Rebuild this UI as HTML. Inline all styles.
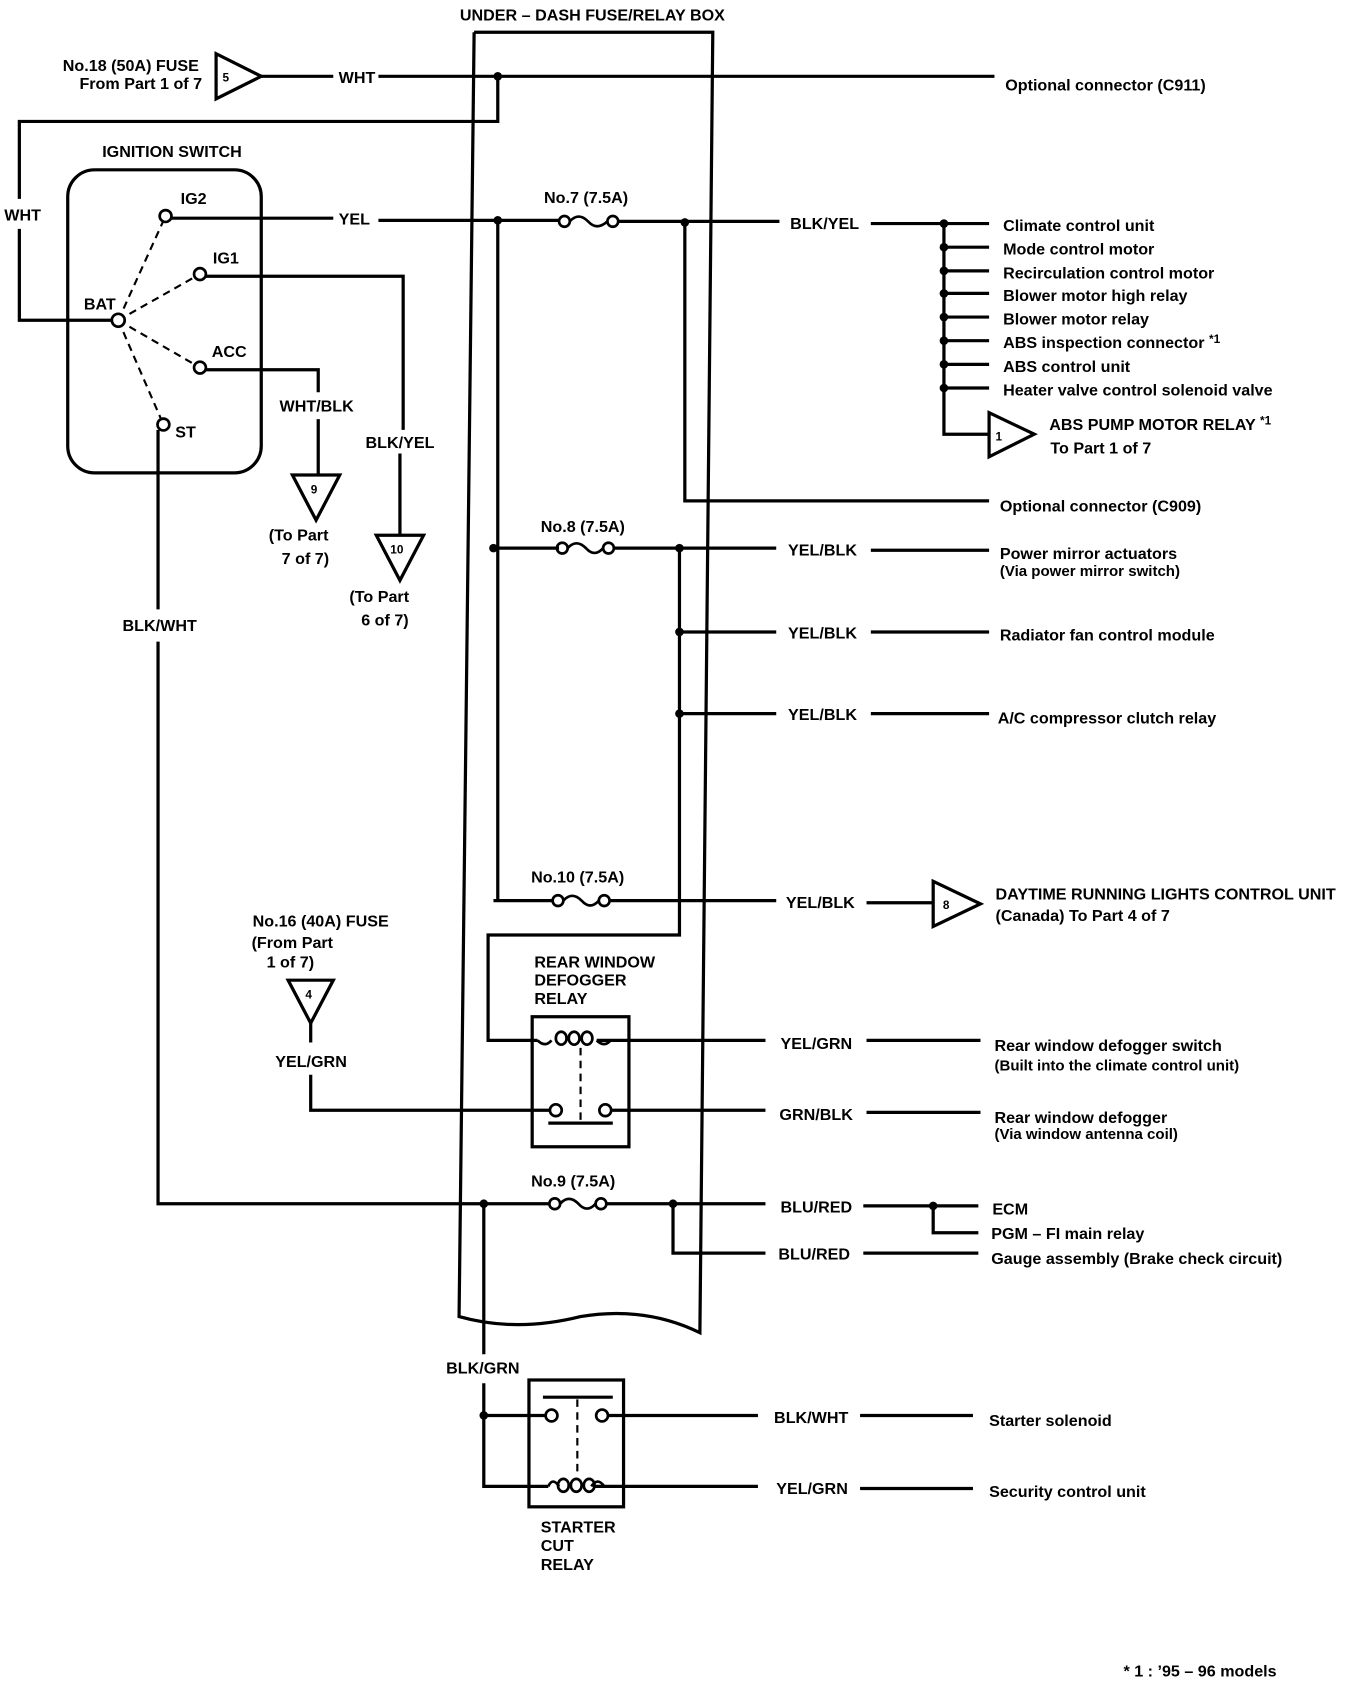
<!DOCTYPE html>
<html><head><meta charset="utf-8"><style>
html,body{margin:0;padding:0;background:#fff}
svg{display:block}
text{font-family:"Liberation Sans",sans-serif;font-size:15px;fill:#000;font-weight:bold}
</style></head><body>
<svg width="1360" height="1682" viewBox="0 0 1265 1565" preserveAspectRatio="none" xmlns="http://www.w3.org/2000/svg">
<g fill="none" stroke="#000" stroke-width="3">
<!-- fuse box -->
<path d="M441 30 L663 30 L651 1240 Q600 1215 540 1225 Q480 1240 427 1225 L441 30"/>
<!-- WHT top -->
<path d="M243 71 H310 M352 71 H925 M463 71 V113 H18 V185 M18 213 V298 H105"/>
<path d="M201 50 L201 92 L243 71 Z"/>
<!-- ignition switch -->
<rect x="63" y="158" width="180" height="282" rx="25"/>
<path d="M159 203 H310 M352 205 H520 M575 206 H725 M810 208 H920"/>
<path d="M191 257 H375 V400 M372 422 V498"/>
<path d="M191 344 H296 V365 M296 390 V442"/>
<path d="M272 442 L316 442 L294 484 Z"/>
<path d="M350 498 L394 498 L372 540 Z"/>
<path d="M147 400 V567 M147 597 V1120 H512"/>
<!-- No7 branches -->
<path d="M463 205 V838 M637 207 V466 H920"/>
<path d="M878 208 V404 H920"/>
<path d="M878 230 H920 M878 252 H920 M878 273 H920 M878 295 H920 M878 317 H920 M878 339 H920 M878 361 H920"/>
<path d="M920 384 L920 425 L962 404 Z"/>
<!-- No8 -->
<path d="M459 510 H520 M570 510 H722 M810 512 H920"/>
<path d="M632 510 V870 H454 V968 H500"/>
<path d="M632 588 H722 M810 588 H920 M632 664 H722 M810 664 H920"/>
<!-- No10 -->
<path d="M459 838 H515 M568 838 H722 M806 840 H868"/>
<path d="M868 820 L868 862 L912 841 Z"/>
<!-- defogger relay -->
<rect x="495" y="946" width="90" height="121"/>
<path d="M555 968 H712 M806 968 H912"/>
<path d="M568 1033 H712 M806 1035 H912"/>
<path d="M289 952 V970 M289 1000 V1033 H512"/>
<path d="M268 912 L310 912 L289 952 Z"/>
<path d="M510 1045 H570"/>
<!-- No9 -->
<path d="M563 1120 H712 M803 1122 H910 M868 1122 V1147 H910 M626 1120 V1166 H712 M803 1166 H910"/>
<path d="M450 1120 V1260 M450 1287 V1383 H510 M450 1317 H508 M565 1317 H705 M800 1317 H905 M552 1383 H705 M800 1385 H905"/>
<rect x="492" y="1284" width="88" height="118"/>
<path d="M505 1300 H570"/>
</g>
<!-- dashed -->
<g fill="none" stroke="#000" stroke-width="2" stroke-dasharray="7,5">
<path d="M110 298 L154 201 M110 298 L186 255 M110 298 L186 342 M110 298 L152 395"/>
<path d="M540 975 V1045 M537 1302 V1372"/>
</g>
<!-- terminals -->
<g fill="#fff" stroke="#000" stroke-width="2.5">
<circle cx="154" cy="201" r="5.5"/><circle cx="186" cy="255" r="5.5"/><circle cx="110" cy="298" r="6"/><circle cx="186" cy="342" r="5.5"/><circle cx="152" cy="395" r="5.5"/>
<circle cx="517" cy="1033" r="5.5"/><circle cx="563" cy="1033" r="5.5"/>
<circle cx="513" cy="1317" r="5.5"/><circle cx="560" cy="1317" r="5.5"/>
</g>
<!-- fuses -->
<g fill="none" stroke="#000" stroke-width="2.5">
<g transform="translate(520,206)"><circle cx="5" cy="0" r="5"/><path d="M10 0 Q18 -9 27 0 Q35 9 45 0"/><circle cx="50" cy="0" r="5"/></g>
<g transform="translate(518,510)"><circle cx="5" cy="0" r="5"/><path d="M10 0 Q18 -9 27 0 Q35 9 43 0"/><circle cx="48" cy="0" r="5"/></g>
<g transform="translate(514,838)"><circle cx="5" cy="0" r="5"/><path d="M10 0 Q18 -9 27 0 Q35 9 43 0"/><circle cx="48" cy="0" r="5"/></g>
<g transform="translate(511,1120)"><circle cx="5" cy="0" r="5"/><path d="M10 0 Q18 -9 27 0 Q35 9 43 0"/><circle cx="48" cy="0" r="5"/></g>
<!-- coils -->
<path d="M500 968 Q507 975 513 968 M555 968 Q562 975 568 968"/>
<ellipse cx="522" cy="966" rx="5" ry="6"/><ellipse cx="534" cy="966" rx="5" ry="6"/><ellipse cx="546" cy="966" rx="5" ry="6"/>
<path d="M510 1383 Q514 1374 520 1383 M550 1383 Q556 1374 562 1383"/>
<ellipse cx="524" cy="1382" rx="5" ry="6"/><ellipse cx="536" cy="1382" rx="5" ry="6"/><ellipse cx="548" cy="1382" rx="5" ry="6"/>
</g>
<!-- dots -->
<g fill="#000">
<circle cx="463" cy="71" r="4"/><circle cx="463" cy="205" r="4"/><circle cx="637" cy="207" r="4"/>
<circle cx="878" cy="208" r="4"/><circle cx="878" cy="230" r="4"/><circle cx="878" cy="252" r="4"/><circle cx="878" cy="273" r="4"/><circle cx="878" cy="295" r="4"/><circle cx="878" cy="317" r="4"/><circle cx="878" cy="339" r="4"/><circle cx="878" cy="361" r="4"/>
<circle cx="459" cy="510" r="4"/><circle cx="632" cy="510" r="4"/><circle cx="632" cy="588" r="4"/><circle cx="632" cy="664" r="4"/>
<circle cx="450" cy="1120" r="4"/><circle cx="626" cy="1120" r="4"/><circle cx="868" cy="1122" r="4"/><circle cx="450" cy="1317" r="4"/>
</g>
<!-- labels -->
<text x="551" y="19" text-anchor="middle">UNDER – DASH FUSE/RELAY BOX</text>
<text x="185" y="66" text-anchor="end">No.18 (50A) FUSE</text>
<text x="188" y="83" text-anchor="end">From Part 1 of 7</text>
<text x="207" y="76" style="font-size:11px">5</text>
<text x="315" y="77">WHT</text>
<text x="935" y="84">Optional connector (C911)</text>
<text x="4" y="205">WHT</text>
<text x="160" y="146" text-anchor="middle">IGNITION SWITCH</text>
<text x="168" y="190">IG2</text>
<text x="198" y="245">IG1</text>
<text x="78" y="288">BAT</text>
<text x="197" y="332">ACC</text>
<text x="163" y="407">ST</text>
<text x="315" y="209">YEL</text>
<text x="506" y="189">No.7 (7.5A)</text>
<text x="735" y="213">BLK/YEL</text>
<g>
<text x="933" y="215">Climate control unit</text>
<text x="933" y="237">Mode control motor</text>
<text x="933" y="259">Recirculation control motor</text>
<text x="933" y="280">Blower motor high relay</text>
<text x="933" y="302">Blower motor relay</text>
<text x="933" y="324">ABS inspection connector <tspan style="font-size:11px" dy="-5">*1</tspan></text>
<text x="933" y="346">ABS control unit</text>
<text x="933" y="368">Heater valve control solenoid valve</text>
</g>
<text x="926" y="410" style="font-size:11px">1</text>
<text x="976" y="400">ABS PUMP MOTOR RELAY <tspan style="font-size:11px" dy="-5">*1</tspan></text>
<text x="977" y="422">To Part 1 of 7</text>
<text x="930" y="476">Optional connector (C909)</text>
<text x="260" y="383">WHT/BLK</text>
<text x="289" y="459" style="font-size:11px">9</text>
<text x="250" y="503">(To Part</text><text x="262" y="525">7 of 7)</text>
<text x="340" y="417">BLK/YEL</text>
<text x="363" y="515" style="font-size:11px">10</text>
<text x="325" y="560">(To Part</text><text x="336" y="582">6 of 7)</text>
<text x="114" y="587">BLK/WHT</text>
<text x="503" y="495">No.8 (7.5A)</text>
<text x="733" y="517">YEL/BLK</text>
<text x="930" y="520">Power mirror actuators</text>
<text x="930" y="536" style="font-size:14px">(Via power mirror switch)</text>
<text x="733" y="594">YEL/BLK</text>
<text x="930" y="596">Radiator fan control module</text>
<text x="733" y="670">YEL/BLK</text>
<text x="928" y="673">A/C compressor clutch relay</text>
<text x="494" y="821">No.10 (7.5A)</text>
<text x="731" y="845">YEL/BLK</text>
<text x="877" y="846" style="font-size:11px">8</text>
<text x="926" y="837">DAYTIME RUNNING LIGHTS CONTROL UNIT</text>
<text x="926" y="857">(Canada)  To Part 4 of 7</text>
<text x="235" y="862">No.16 (40A) FUSE</text>
<text x="234" y="882">(From Part</text><text x="248" y="900">1 of 7)</text>
<text x="284" y="929" style="font-size:11px">4</text>
<text x="256" y="993">YEL/GRN</text>
<text x="497" y="900">REAR WINDOW</text>
<text x="497" y="917">DEFOGGER</text>
<text x="497" y="934">RELAY</text>
<text x="726" y="976">YEL/GRN</text>
<text x="925" y="978">Rear window defogger switch</text>
<text x="925" y="996" style="font-size:14px">(Built into the climate control unit)</text>
<text x="725" y="1042">GRN/BLK</text>
<text x="925" y="1045">Rear window defogger</text>
<text x="925" y="1060" style="font-size:14px">(Via window antenna coil)</text>
<text x="494" y="1104">No.9 (7.5A)</text>
<text x="726" y="1128">BLU/RED</text>
<text x="923" y="1130">ECM</text>
<text x="922" y="1153">PGM – FI main relay</text>
<text x="724" y="1172">BLU/RED</text>
<text x="922" y="1176">Gauge assembly (Brake check circuit)</text>
<text x="415" y="1278">BLK/GRN</text>
<text x="720" y="1324">BLK/WHT</text>
<text x="920" y="1327">Starter solenoid</text>
<text x="722" y="1390">YEL/GRN</text>
<text x="920" y="1393">Security control unit</text>
<text x="503" y="1426">STARTER</text>
<text x="503" y="1443">CUT</text>
<text x="503" y="1461">RELAY</text>
<text x="1045" y="1560">* 1  : ’95 – 96 models</text>
</svg>
</body></html>
